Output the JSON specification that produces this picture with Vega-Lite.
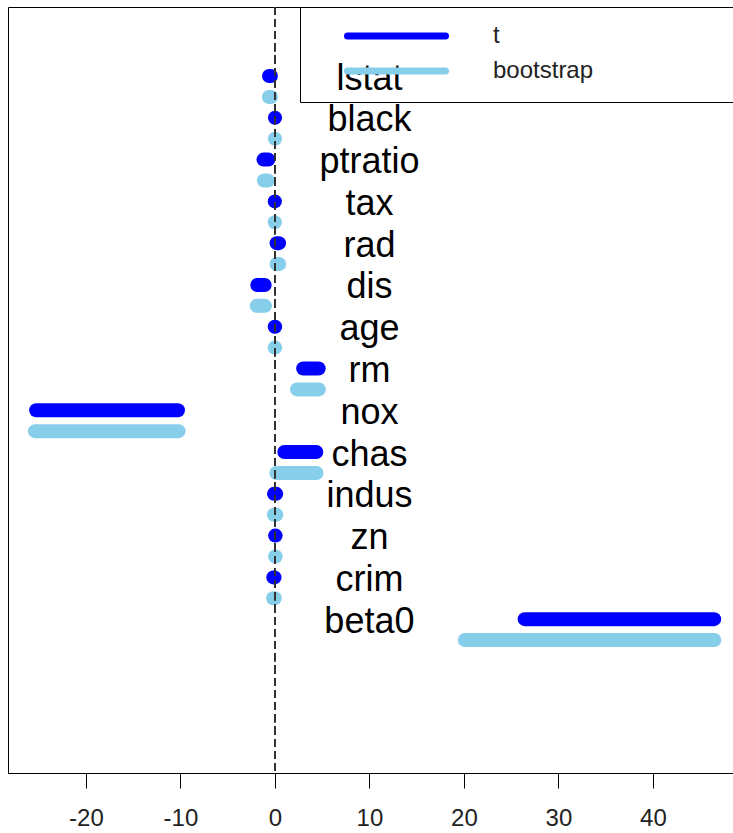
{
  "$schema": "https://vega.github.io/schema/vega-lite/v6.json",
  "width": 725,
  "height": 766,
  "autosize": "none",
  "padding": {"left": 8, "top": 7, "right": 0, "bottom": 60},
  "background": "white",
  "config": {"view": {"stroke": "black", "strokeWidth": 1, "fill": null}, "font": "Liberation Sans"},
  "data": {
    "values": [
      {"variable": "beta0", "method": "t", "lo": 26.43, "hi": 46.49},
      {"variable": "beta0", "method": "bootstrap", "lo": 20.1, "hi": 46.5},
      {"variable": "crim", "method": "t", "lo": -0.173, "hi": -0.043},
      {"variable": "crim", "method": "bootstrap", "lo": -0.19, "hi": -0.02},
      {"variable": "zn", "method": "t", "lo": 0.019, "hi": 0.073},
      {"variable": "zn", "method": "bootstrap", "lo": 0.02, "hi": 0.075},
      {"variable": "indus", "method": "t", "lo": -0.1, "hi": 0.141},
      {"variable": "indus", "method": "bootstrap", "lo": -0.11, "hi": 0.15},
      {"variable": "chas", "method": "t", "lo": 0.994, "hi": 4.38},
      {"variable": "chas", "method": "bootstrap", "lo": 0.15, "hi": 4.4},
      {"variable": "nox", "method": "t", "lo": -25.27, "hi": -10.26},
      {"variable": "nox", "method": "bootstrap", "lo": -25.4, "hi": -10.2},
      {"variable": "rm", "method": "t", "lo": 2.989, "hi": 4.631},
      {"variable": "rm", "method": "bootstrap", "lo": 2.34, "hi": 4.65},
      {"variable": "age", "method": "t", "lo": -0.025, "hi": 0.027},
      {"variable": "age", "method": "bootstrap", "lo": -0.027, "hi": 0.029},
      {"variable": "dis", "method": "t", "lo": -1.867, "hi": -1.084},
      {"variable": "dis", "method": "bootstrap", "lo": -1.93, "hi": -1.05},
      {"variable": "rad", "method": "t", "lo": 0.176, "hi": 0.436},
      {"variable": "rad", "method": "bootstrap", "lo": 0.17, "hi": 0.45},
      {"variable": "tax", "method": "t", "lo": -0.0197, "hi": -0.0049},
      {"variable": "tax", "method": "bootstrap", "lo": -0.021, "hi": -0.004},
      {"variable": "ptratio", "method": "t", "lo": -1.21, "hi": -0.696},
      {"variable": "ptratio", "method": "bootstrap", "lo": -1.16, "hi": -0.75},
      {"variable": "black", "method": "t", "lo": 0.004, "hi": 0.0146},
      {"variable": "black", "method": "bootstrap", "lo": 0.003, "hi": 0.016},
      {"variable": "lstat", "method": "t", "lo": -0.624, "hi": -0.425},
      {"variable": "lstat", "method": "bootstrap", "lo": -0.64, "hi": -0.41}
    ]
  },
  "layer": [
    {
      "mark": {"type": "rule", "strokeWidth": 14, "strokeCap": "round"},
      "encoding": {
        "x": {
          "field": "lo",
          "type": "quantitative",
          "scale": {"domain": [-28.25, 48.48], "nice": false, "zero": false},
          "axis": {
            "orient": "bottom",
            "values": [-20, -10, 0, 10, 20, 30, 40],
            "labelExpr": "'' + datum.value",
            "grid": false,
            "title": null,
            "tickSize": 15,
            "tickColor": "black",
            "domainColor": "black",
            "labelFontSize": 24,
            "labelFont": "Liberation Sans",
            "labelColor": "#222222",
            "labelPadding": 18,
            "labelFlush": false,
            "labelOverlap": false
          }
        },
        "x2": {"field": "hi"},
        "y": {
          "field": "variable",
          "type": "nominal",
          "scale": {
            "domain": ["lstat", "black", "ptratio", "tax", "rad", "dis", "age", "rm", "nox", "chas", "indus", "zn", "crim", "beta0"],
            "range": [58.6, 643.5],
            "paddingInner": 0,
            "paddingOuter": 0
          },
          "axis": null
        },
        "yOffset": {
          "field": "method",
          "type": "nominal",
          "scale": {"domain": ["t", "bootstrap"], "paddingInner": 0, "paddingOuter": 0}
        },
        "color": {
          "field": "method",
          "type": "nominal",
          "scale": {"domain": ["t", "bootstrap"], "range": ["#0000FF", "#87CEEB"]},
          "legend": {
            "orient": "none",
            "legendX": 292,
            "legendY": 0,
            "zindex": 0,
            "title": null,
            "padding": 17,
            "rowPadding": 7,
            "symbolType": "M-14,0H14M110,0",
            "symbolSize": 49,
            "symbolStrokeWidth": 7,
            "symbolOffset": 67.5,
            "labelOffset": 84.5,
            "labelFontSize": 24,
            "labelFont": "Liberation Sans",
            "labelColor": "#222222",
            "strokeColor": "black",
            "encode": {
              "symbols": {
                "update": {
                  "strokeCap": {"value": "round"},
                  "strokeWidth": {"value": 7},
                  "fill": {"value": "transparent"},
                  "opacity": {"value": 1}
                }
              }
            }
          }
        }
      }
    },
    {
      "mark": {"type": "rule", "strokeDash": [7.5, 4.7], "color": "#333333", "strokeWidth": 1},
      "encoding": {
        "x": {"datum": 0, "type": "quantitative"}
      }
    },
    {
      "transform": [{"filter": "datum.method === 't'"}],
      "mark": {"type": "text", "fontSize": 36, "font": "Liberation Sans", "color": "black", "dy": 2.5},
      "encoding": {
        "x": {"datum": 10, "type": "quantitative"},
        "y": {"field": "variable", "type": "nominal", "axis": null},
        "yOffset": {"field": "method", "type": "nominal"},
        "text": {"field": "variable"}
      }
    }
  ]
}
